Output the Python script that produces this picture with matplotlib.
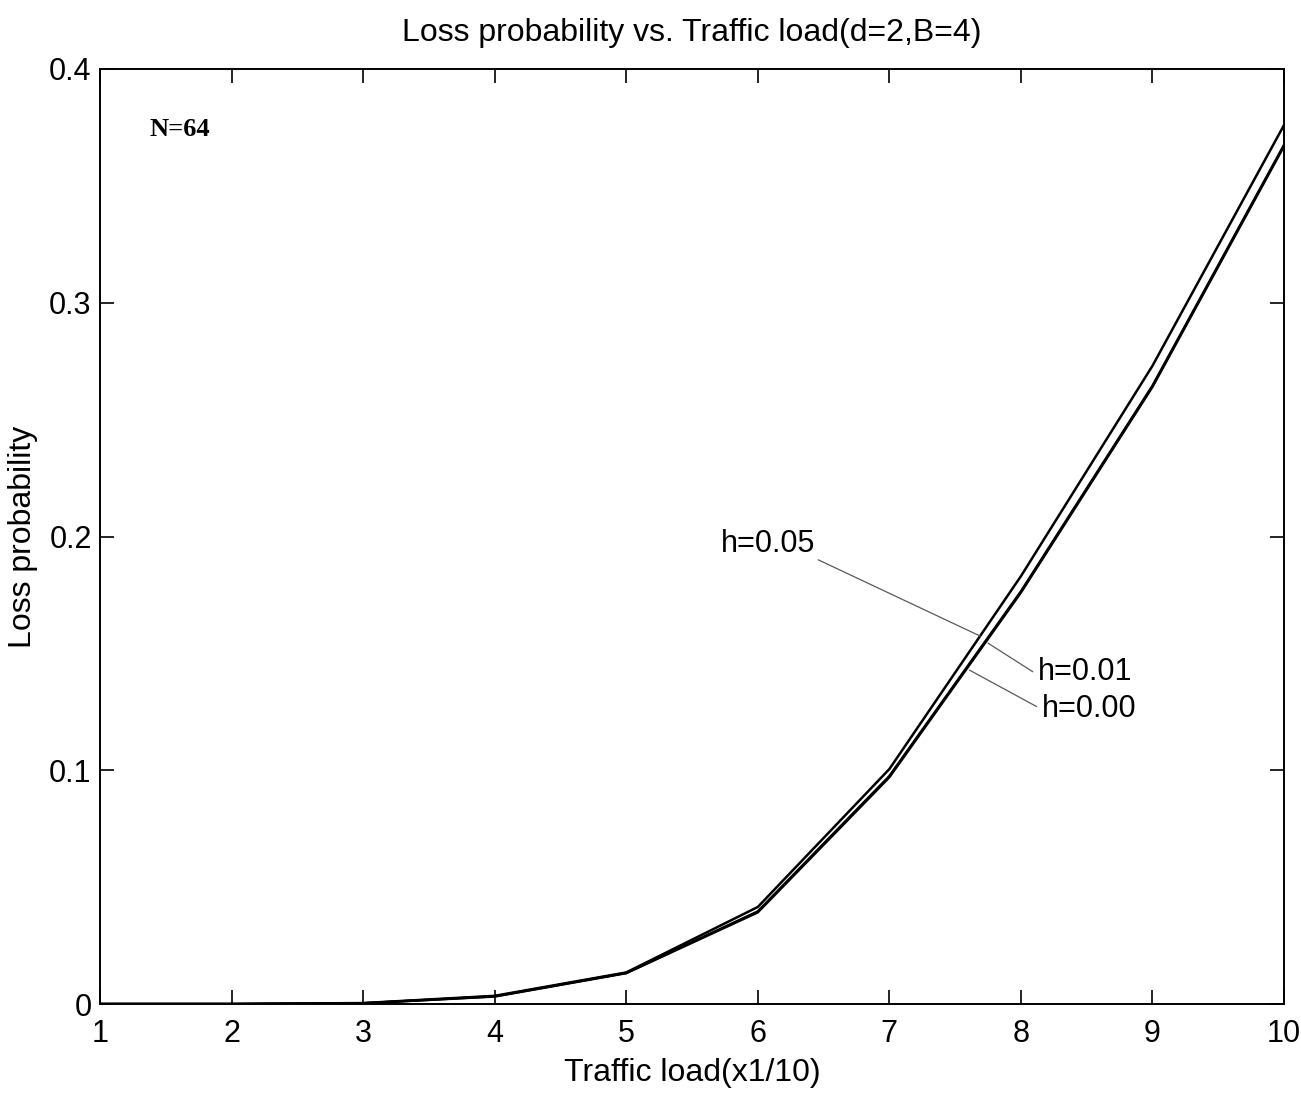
import numpy as np
import matplotlib
matplotlib.use("Agg")
import matplotlib.pyplot as plt

# ======================================================
# DATA
# ======================================================
load = [1, 2, 3, 4, 5, 6, 7, 8, 9, 10]
loss_h005 = [0.0, 0.0, 0.0004, 0.0035, 0.0135, 0.0415, 0.1005, 0.183, 0.273, 0.376]
loss_h001 = [0.0, 0.0, 0.0003, 0.0033, 0.0133, 0.0396, 0.0975, 0.1765, 0.2645, 0.3675]
loss_h000 = [0.0, 0.0, 0.0003, 0.0032, 0.0132, 0.0392, 0.0970, 0.1760, 0.2640, 0.3670]

xticks = [1, 2, 3, 4, 5, 6, 7, 8, 9, 10]
yticks = [0, 0.1, 0.2, 0.3, 0.4]
ytick_labels = ["0", "0.1", "0.2", "0.3", "0.4"]

plt.rcParams["font.family"] = ["Liberation Sans", "DejaVu Sans"]

W, H = 1301, 1094
fig = plt.figure(figsize=(W / 100, H / 100), dpi=100)
# axes box in pixels: left 100, right 1284, top 69, bottom 1004
ax = fig.add_axes([100 / W, (H - 1004) / H, 1184 / W, 935 / H])

ax.plot(load, loss_h005, color="black", lw=1.8)
ax.plot(load, loss_h001, color="black", lw=1.8)
ax.plot(load, loss_h000, color="black", lw=1.8)

ax.set_xlim(1, 10)
ax.set_ylim(0, 0.4)
ax.set_xticks(xticks)
ax.set_yticks(yticks)
ax.set_yticklabels(ytick_labels)
ax.tick_params(direction="in", length=10, width=1.2, top=True, right=True,
               labelsize=22)
ax.tick_params(axis="x", pad=11)
ax.tick_params(axis="y", pad=6)
for s in ax.spines.values():
    s.set_linewidth(1.4)

ax.set_title("Loss probability vs. Traffic load(d=2,B=4)", fontsize=23, pad=20)
ax.set_xlabel("Traffic load(x1/10)", fontsize=23, labelpad=6)
ax.set_ylabel("Loss probability", fontsize=23, labelpad=8)

ax.text(1.38, 0.374, "N=64", fontsize=19, fontweight="bold",
        family=["Liberation Serif", "DejaVu Serif"], va="center")

# curve labels with leader lines
tx05 = 7.69
ax.annotate("h=0.05", xy=(tx05, np.interp(tx05, load, loss_h005)), xytext=(6.08, 0.197),
            fontsize=22, va="center", ha="center",
            arrowprops=dict(arrowstyle="-", color="0.35", lw=0.9,
                            shrinkA=0, shrinkB=0, relpos=(1.0, 0.0)))
tx01 = 7.72
ax.annotate("h=0.01", xy=(tx01 + 0.03, np.interp(tx01, load, loss_h001)), xytext=(8.13, 0.142),
            fontsize=22, va="center", ha="left",
            arrowprops=dict(arrowstyle="-", color="0.35", lw=0.9,
                            shrinkA=2, shrinkB=0, relpos=(0.0, 0.4)))
tx00 = 7.58
ax.annotate("h=0.00", xy=(tx00 + 0.03, np.interp(tx00, load, loss_h000)), xytext=(8.16, 0.126),
            fontsize=22, va="center", ha="left",
            arrowprops=dict(arrowstyle="-", color="0.35", lw=0.9,
                            shrinkA=2, shrinkB=0, relpos=(0.0, 0.5)))

fig.savefig("out.png", dpi=100)
